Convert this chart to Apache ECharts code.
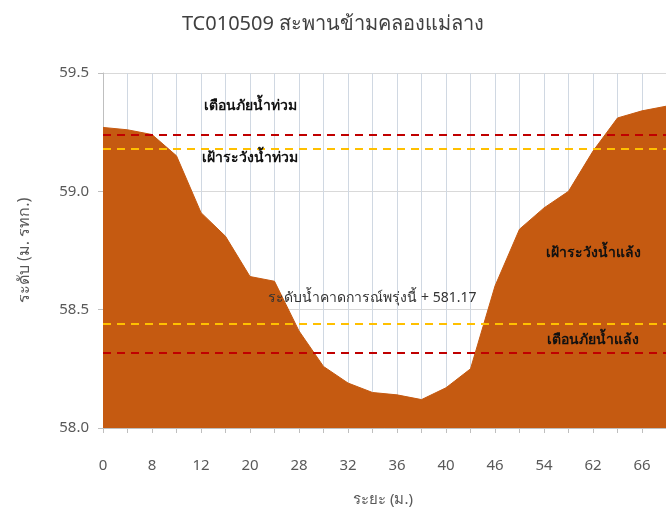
<!DOCTYPE html>
<html>
<head>
<meta charset="utf-8">
<script src="https://cdn.jsdelivr.net/npm/echarts@6.0.0/dist/echarts.min.js"></script>
<style>
  html, body { margin: 0; padding: 0; background: #fff; }
  #chart { width: 666px; height: 517px; }
</style>
</head>
<body>
<div id="chart"></div>
<script>
// distance from left bank (m.), every second one is labelled
const distances = ['0', '4', '8', '10', '12', '16', '20', '24', '28', '30', '32', '34', '36',
  '38', '40', '43', '46', '50', '54', '58', '62', '64', '66', '68', '70'];
// bed level (m. MSL)
const bedLevels = [59.27, 59.26, 59.24, 59.15, 58.91, 58.81, 58.64, 58.62, 58.41, 58.26, 58.19,
  58.15, 58.14, 58.12, 58.17, 58.25, 58.60, 58.84, 58.93, 59.00, 59.17, 59.31, 59.34, 59.36, 59.37];
const yTicks = [58.0, 58.5, 59.0, 59.5];

const floodWarn = 59.24;
const floodWatch = 59.18;
const droughtWatch = 58.44;
const droughtWarn = 58.32;

const thaiFont = 'Tahoma, "Noto Sans", "DejaVu Sans", sans-serif';

const chart = echarts.init(document.getElementById('chart'));

function refLine(value, color) {
  return {
    yAxis: value,
    symbol: 'none',
    label: { show: false },
    lineStyle: { color: color, type: [8, 6], width: 2 }
  };
}

function note(text, catIndex, value, bold) {
  return {
    coord: [catIndex, value],
    symbol: 'rect',
    symbolSize: 0,
    itemStyle: { color: 'transparent' },
    label: {
      show: true,
      position: 'inside',
      formatter: text,
      color: bold ? '#111' : '#333',
      fontSize: 14,
      fontWeight: bold ? 'bold' : 'normal',
      fontFamily: thaiFont
    }
  };
}

const option = {
  animation: false,
  title: {
    text: 'TC010509 สะพานข้ามคลองแม่ลาง',
    left: 'center',
    top: 9,
    textStyle: { color: '#404040', fontSize: 20, fontWeight: 'normal', fontFamily: thaiFont }
  },
  grid: { left: 103, right: -25, top: 73, bottom: 89, containLabel: false, outerBoundsMode: 'none' },
  xAxis: {
    type: 'category',
    data: distances,
    boundaryGap: false,
    name: 'ระยะ (ม.)',
    nameLocation: 'middle',
    nameGap: 64,
    nameTextStyle: { color: '#595959', fontSize: 15, fontFamily: thaiFont, padding: [0, 28, 0, 0] },
    axisLine: { show: true, lineStyle: { color: '#bfbfbf' } },
    axisTick: { show: true, interval: 0, length: 5, lineStyle: { color: '#bfbfbf' } },
    axisLabel: { interval: 1, margin: 30, color: '#595959', fontSize: 15, fontFamily: thaiFont },
    splitLine: { show: true, interval: 0, lineStyle: { color: '#d0d8e2', width: 1 } }
  },
  yAxis: {
    type: 'value',
    min: yTicks[0],
    max: yTicks[yTicks.length - 1],
    interval: 0.5,
    name: 'ระดับ (ม. รทก.)',
    nameLocation: 'middle',
    nameGap: 71,
    nameTextStyle: { color: '#595959', fontSize: 16, fontFamily: thaiFont },
    axisLine: { show: true, lineStyle: { color: '#bfbfbf' } },
    axisTick: { show: true, length: 5, lineStyle: { color: '#bfbfbf' } },
    axisLabel: {
      margin: 14,
      color: '#595959',
      fontSize: 15,
      fontFamily: thaiFont,
      formatter: v => v.toFixed(1)
    },
    splitLine: { show: true, lineStyle: { color: '#d9d9d9', width: 1 } }
  },
  series: [
    {
      type: 'line',
      name: 'bed',
      data: bedLevels,
      symbol: 'none',
      lineStyle: { color: '#c55a11', width: 1 },
      areaStyle: { color: '#c55a11', opacity: 1, origin: 'start' },
      z: 2,
      markLine: {
        silent: true,
        symbol: 'none',
        z: 5,
        data: [
          refLine(floodWarn, '#c00000'),
          refLine(floodWatch, '#ffc000'),
          refLine(droughtWatch, '#ffc000'),
          refLine(droughtWarn, '#c00000')
        ]
      },
      markPoint: {
        silent: true,
        z: 6,
        data: [
          note('เตือนภัยน้ำท่วม', 6.2, 59.36, true),
          note('เฝ้าระวังน้ำท่วม', 6.1, 59.14, true),
          note('เฝ้าระวังน้ำแล้ง', 20.1, 58.74, true),
          note('เตือนภัยน้ำแล้ง', 20.1, 58.37, true),
          note('ระดับน้ำคาดการณ์พรุ่งนี้ + 581.17', 11.0, 58.55, false)
        ]
      }
    }
  ]
};

chart.setOption(option);
</script>
</body>
</html>
